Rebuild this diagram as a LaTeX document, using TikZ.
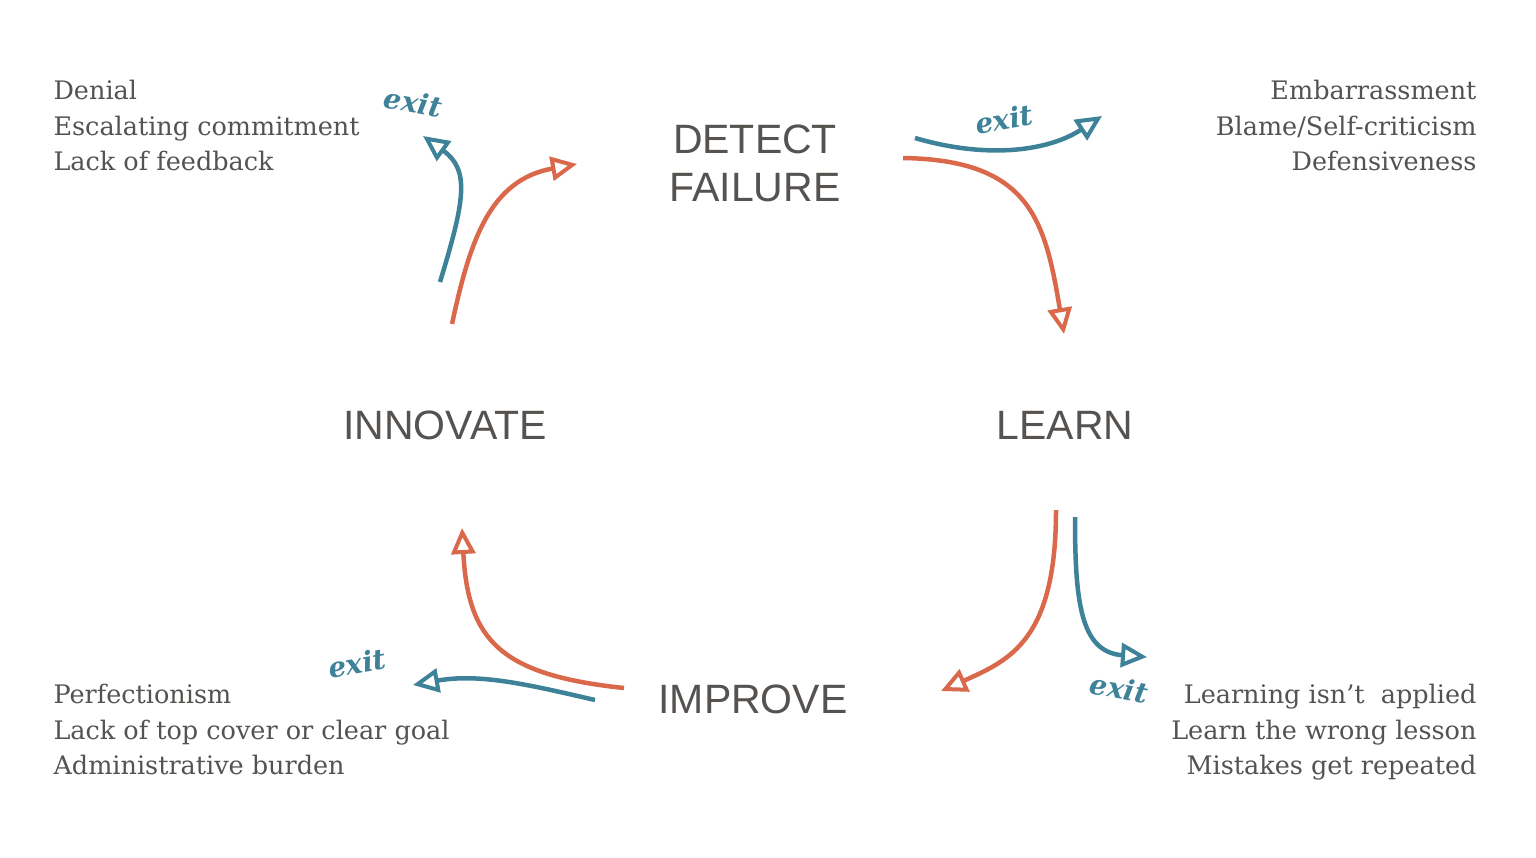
\documentclass[tikz,border=0pt]{standalone}
\usepackage{fontspec}
\setmainfont{DejaVu Serif}
\newfontfamily\mainsf{Liberation Sans}
\newfontfamily\exitfont{DejaVu Serif}
\usetikzlibrary{arrows.meta}
\definecolor{cblue}{HTML}{3E8299}
\definecolor{corange}{HTML}{D9694A}
\definecolor{cgray}{HTML}{555250}
\tikzset{
 big/.style={font=\mainsf\fontsize{41}{48}\selectfont,text=cgray,align=center},
 side/.style={font=\fontsize{25.5}{35.5}\selectfont,text=cgray},
 exitlbl/.style={font=\exitfont\itshape\bfseries\fontsize{28}{28}\selectfont,text=cblue,inner sep=0pt},
 oarr/.style={draw=corange,line width=4.5pt,-{Triangle[open,length=26pt,width=24pt,line width=4pt]}},
 barr/.style={draw=cblue,line width=4.5pt,-{Triangle[open,length=26pt,width=24pt,line width=4pt]}},
}
\begin{document}
\begin{tikzpicture}[x=1pt,y=-1pt]
\useasboundingbox (0,0) rectangle (1536,857);
\node[big] (det) at (755,163) {DETECT\\FAILURE};
\node[big] (learn) at (1065,425) {LEARN};
\node[big] (inn) at (445,425) {INNOVATE};
\node[big] (imp) at (753,699) {IMPROVE};
\node[side,anchor=north west,align=left] (tl) at (50,77) {Denial\\Escalating commitment\\Lack of feedback};
\node[side,anchor=north east,align=right] (tr) at (1480,77) {Embarrassment\\Blame/Self-criticism\\Defensiveness};
\node[side,anchor=north west,align=left] (bl) at (50,681) {Perfectionism\\Lack of top cover or clear goal\\Administrative burden};
\node[side,anchor=north east,align=right] (br) at (1480,681) {Learning isn’t \ applied\\Learn the wrong lesson\\Mistakes get repeated};
\coordinate (a1s) at (903,158); \coordinate (a1e) at (1064,334);
\draw[oarr] (a1s) .. controls (1030,160) and (1045,220) .. (a1e);
\coordinate (b1s) at (915,138); \coordinate (b1e) at (1102,116);
\draw[barr] (b1s) .. controls (990,160) and (1050,150) .. (b1e);
\coordinate (a2s) at (1056,510); \coordinate (a2e) at (941,691);
\draw[oarr] (a2s) .. controls (1056,640) and (1010,660) .. (a2e);
\coordinate (b2s) at (1075,517); \coordinate (b2e) at (1147,657);
\draw[barr] (b2s) .. controls (1075,600) and (1080,652) .. (b2e);
\coordinate (a3s) at (624,688); \coordinate (a3e) at (462,528);
\draw[oarr] (a3s) .. controls (500,675) and (468,640) .. (a3e);
\coordinate (b3s) at (595,700); \coordinate (b3e) at (413,685);
\draw[barr] (b3s) .. controls (530,685) and (480,673) .. (b3e);
\coordinate (a4s) at (452,324); \coordinate (a4e) at (577,164);
\draw[oarr] (a4s) .. controls (470,240) and (490,180) .. (a4e);
\coordinate (b4s) at (440,282); \coordinate (b4e) at (423,136);
\draw[barr] (b4s) .. controls (465,200) and (470,170) .. (b4e);
\node[exitlbl,rotate=-10] (e1) at (413,102) {exit};
\node[exitlbl,rotate=10] (e2) at (1004,119) {exit};
\node[exitlbl,rotate=10] (e3) at (357,663) {exit};
\node[exitlbl,rotate=-10] (e4) at (1119,688) {exit};
\end{tikzpicture}
\end{document}
